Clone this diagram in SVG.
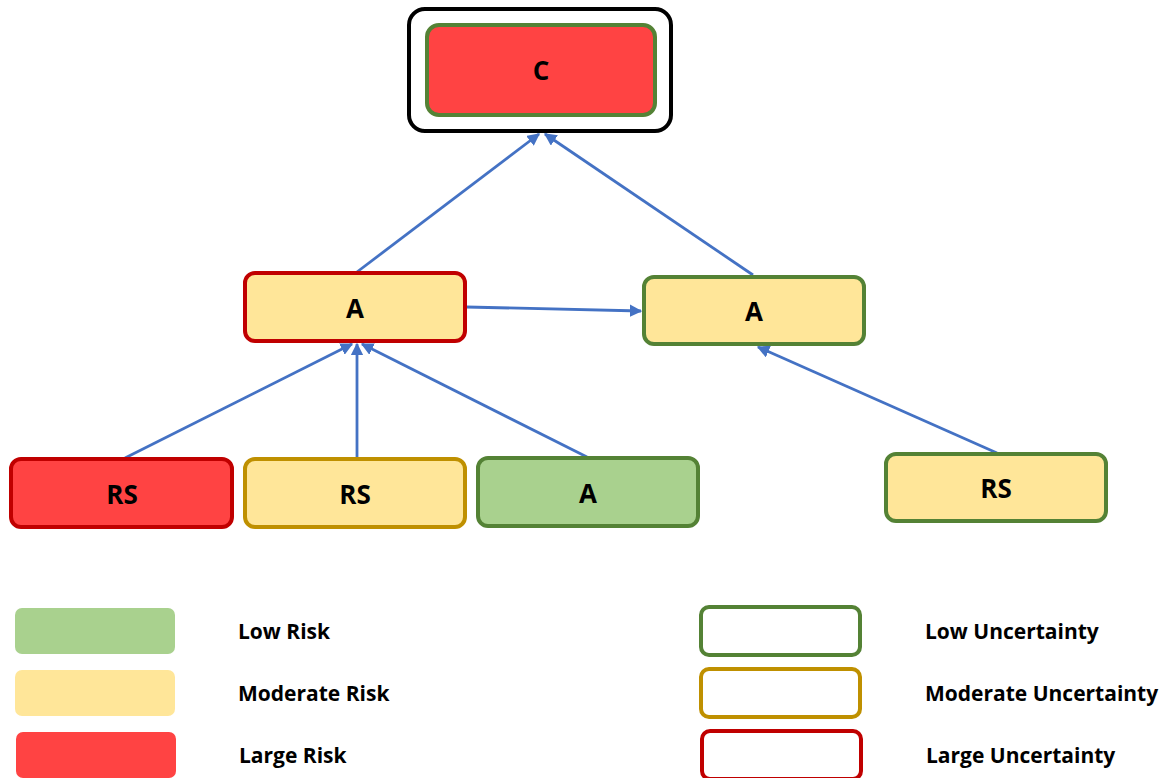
<svg xmlns="http://www.w3.org/2000/svg" width="1168" height="778" viewBox="0 0 1168 778">
<style>
.t{font-family:"Open Sans","Liberation Sans",sans-serif;font-weight:bold;fill:#000;}
.n{font-size:26px;text-anchor:middle;dominant-baseline:central;}
.l{font-size:21px;dominant-baseline:central;}
.c{stroke:#4472C4;stroke-width:2.8;fill:none;marker-end:url(#ah);}
.yel{fill:#FFE699;}
.red{fill:#FF4343;}
.grn{fill:#A9D18E;}
.sg{stroke:#548235;stroke-width:4;}
.sy{stroke:#BF9000;stroke-width:4;}
.sr{stroke:#C00000;stroke-width:4;}
</style>
<defs>
<marker id="ah" viewBox="0 0 10 10" refX="9" refY="5" markerWidth="4.5" markerHeight="4.5" orient="auto" markerUnits="strokeWidth">
<path d="M0,0 L10,5 L0,10 z" fill="#4472C4"/>
</marker>
</defs>
<rect width="1168" height="778" fill="#fff"/>
<g id="connectors">
<line class="c" x1="357" y1="272" x2="539" y2="134"/>
<line class="c" x1="753" y1="275" x2="545" y2="134"/>
<line class="c" x1="466" y1="307" x2="641" y2="311"/>
<line class="c" x1="125" y1="458" x2="352" y2="344"/>
<line class="c" x1="357" y1="458" x2="357" y2="344"/>
<line class="c" x1="587" y1="457" x2="362" y2="344"/>
<line class="c" x1="997" y1="453" x2="758" y2="347"/>
</g>
<g id="nodeC">
<rect x="409" y="9" width="262" height="122" rx="16" fill="#fff" stroke="#000" stroke-width="4"/>
<rect x="427" y="25" width="228" height="90" rx="12" class="red sg"/>
<text class="t n" x="541" y="70">C</text>
</g>
<g id="nodeA1">
<rect x="245" y="273" width="220" height="68" rx="10" class="yel sr"/>
<text class="t n" x="355" y="308">A</text>
</g>
<g id="nodeA2">
<rect x="644" y="277" width="220" height="67" rx="10" class="yel sg"/>
<text class="t n" x="754" y="311">A</text>
</g>
<g id="nodeRS1">
<rect x="11" y="459" width="221" height="68" rx="10" class="red sr"/>
<text class="t n" x="122" y="494">RS</text>
</g>
<g id="nodeRS2">
<rect x="245" y="459" width="220" height="68" rx="10" class="yel sy"/>
<text class="t n" x="355" y="494">RS</text>
</g>
<g id="nodeA3">
<rect x="478" y="458" width="220" height="68" rx="10" class="grn sg"/>
<text class="t n" x="588" y="493">A</text>
</g>
<g id="nodeRS3">
<rect x="886" y="454" width="220" height="67" rx="10" class="yel sg"/>
<text class="t n" x="996" y="488">RS</text>
</g>
<g id="legend-risk">
<rect x="15" y="608" width="160" height="46" rx="7" class="grn"/>
<text class="t l" x="238" y="631">Low Risk</text>
<rect x="15" y="670" width="160" height="46" rx="7" class="yel"/>
<text class="t l" x="238" y="693">Moderate Risk</text>
<rect x="16" y="732" width="160" height="46" rx="7" class="red"/>
<text class="t l" x="239" y="755">Large Risk</text>
</g>
<g id="legend-uncertainty">
<rect x="701" y="607" width="159" height="48" rx="8" fill="#fff" class="sg" stroke-width="3"/>
<text class="t l" x="925" y="631">Low Uncertainty</text>
<rect x="701" y="669" width="159" height="48" rx="8" fill="#fff" class="sy" stroke-width="3"/>
<text class="t l" x="925" y="693">Moderate Uncertainty</text>
<rect x="702" y="731" width="159" height="48" rx="8" fill="#fff" class="sr" stroke-width="3"/>
<text class="t l" x="926" y="755">Large Uncertainty</text>
</g>
</svg>
